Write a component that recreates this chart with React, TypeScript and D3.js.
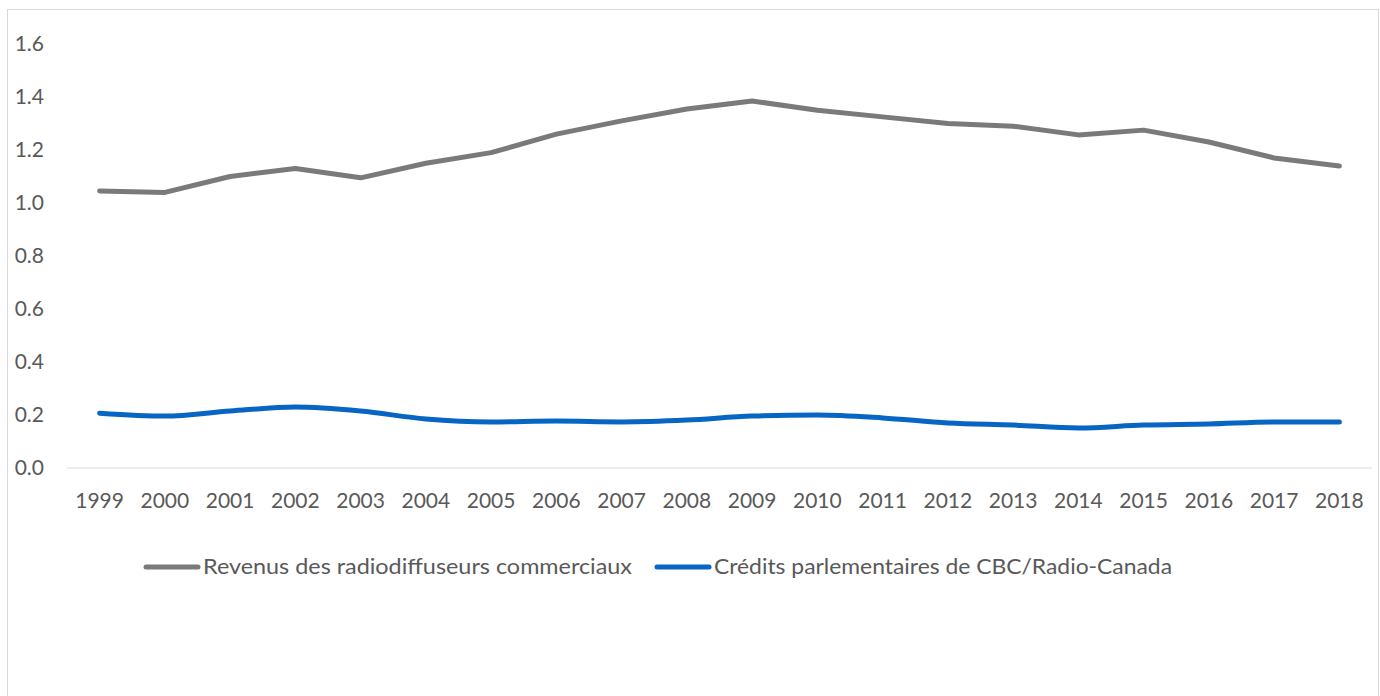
import React from "react";
import * as d3 from "d3";

const years = ["1999","2000","2001","2002","2003","2004","2005","2006","2007","2008","2009","2010","2011","2012","2013","2014","2015","2016","2017","2018"];
const revenus = [1.045,1.04,1.10,1.13,1.095,1.15,1.19,1.26,1.31,1.355,1.385,1.35,1.325,1.30,1.29,1.257,1.275,1.23,1.17,1.14];
const credits = [0.207,0.196,0.215,0.23,0.215,0.185,0.174,0.177,0.174,0.181,0.196,0.2,0.189,0.17,0.162,0.151,0.162,0.166,0.174,0.174];
const yTicks = [0,0.2,0.4,0.6,0.8,1.0,1.2,1.4,1.6];
const seriesNames = ["Revenus des radiodiffuseurs commerciaux","Crédits parlementaires de CBC/Radio-Canada"];
const colors = ["#7a7a7a","#0766c4"];

export default function App() {
  const W = 1380, H = 696;
  const x = d3.scaleBand().domain(years).range([67, 1372]);
  const y = d3.scaleLinear().domain([0, 1.6]).range([468, 44]);
  const cx = (d: string) => (x(d) as number) + x.bandwidth() / 2;
  const lineG = d3.line<number>().x((_, i) => cx(years[i])).y(v => y(v));
  const lineB = d3.line<number>().x((_, i) => cx(years[i])).y(v => y(v)).curve(d3.curveMonotoneX);
  const font = "Lato, 'Open Sans', sans-serif";
  const tc = "#595959";
  return (
    <svg width={W} height={H} style={{ position: "absolute", left: 0, top: 0 }} fontFamily={font}>
      <rect x={0} y={0} width={W} height={H} fill="#fff" />
      <rect x={7.5} y={9.5} width={1371} height={700} fill="#fff" stroke="#d9d9d9" strokeWidth={1} />
      {yTicks.map(t => (
        <text key={t} x={44} y={y(t)} dy="0.35em" textAnchor="end" fontSize={21} fill={tc}>{t.toFixed(1)}</text>
      ))}
      <line x1={67} x2={1372} y1={y(0)} y2={y(0)} stroke="#d9d9d9" strokeWidth={1} />
      {years.map(yr => (
        <text key={yr} x={cx(yr)} y={501} dy="0.35em" textAnchor="middle" fontSize={21} fill={tc}>{yr}</text>
      ))}
      <path d={lineG(revenus) || ""} fill="none" stroke={colors[0]} strokeWidth={5} strokeLinecap="round" strokeLinejoin="round" />
      <path d={lineB(credits) || ""} fill="none" stroke={colors[1]} strokeWidth={5} strokeLinecap="round" strokeLinejoin="round" />
      <g>
        <line x1={146} x2={198} y1={567} y2={567} stroke={colors[0]} strokeWidth={5} strokeLinecap="round" />
        <text x={203} y={567} dy="0.35em" fontSize={21} fill={tc} textLength={429} lengthAdjust="spacingAndGlyphs">{seriesNames[0]}</text>
        <line x1={657} x2={709} y1={567} y2={567} stroke={colors[1]} strokeWidth={5} strokeLinecap="round" />
        <text x={714} y={567} dy="0.35em" fontSize={21} fill={tc} textLength={458} lengthAdjust="spacingAndGlyphs">{seriesNames[1]}</text>
      </g>
    </svg>
  );
}
